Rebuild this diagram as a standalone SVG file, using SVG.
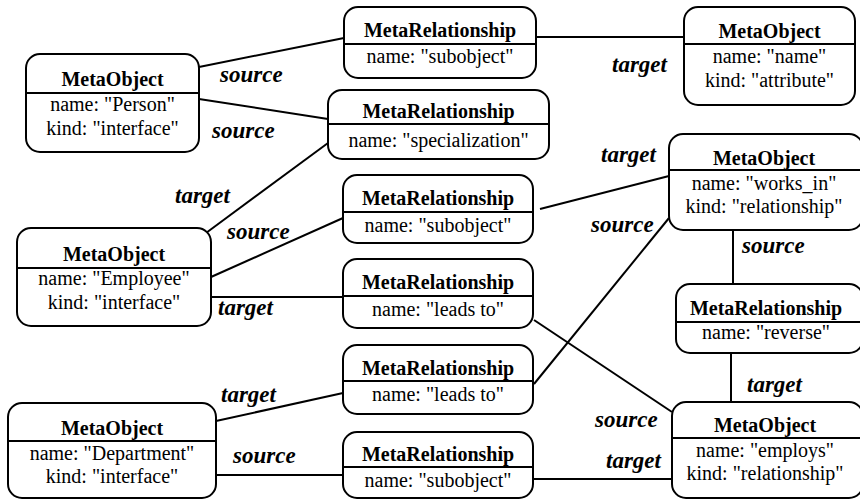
<svg xmlns="http://www.w3.org/2000/svg" width="860" height="499" viewBox="0 0 860 499">
<style>
.box{fill:#fff;stroke:#000;stroke-width:2}
.div{stroke:#000;stroke-width:2}
.t{font-family:"Liberation Serif","Times New Roman","DejaVu Serif",serif;font-weight:bold;font-size:20px;text-anchor:middle}
.a{font-family:"Liberation Serif","Times New Roman","DejaVu Serif",serif;font-size:20px;text-anchor:middle}
.l{font-family:"Liberation Serif","Times New Roman","DejaVu Serif",serif;font-weight:bold;font-style:italic;font-size:23px}
.c line{stroke:#000;stroke-width:2}
</style>
<rect width="860" height="499" fill="#fff"/>
<g class="c" id="connectors">
<line x1="199" y1="67" x2="344" y2="38"/>
<line x1="199" y1="99" x2="328" y2="119"/>
<line x1="536" y1="37" x2="684" y2="37"/>
<line x1="328" y1="143" x2="206" y2="233"/>
<line x1="211" y1="277" x2="343" y2="218"/>
<line x1="211" y1="297" x2="343" y2="297"/>
<line x1="540" y1="209" x2="669" y2="176"/>
<line x1="534" y1="384" x2="669" y2="218"/>
<line x1="534" y1="320" x2="672" y2="412"/>
<line x1="733" y1="230" x2="733" y2="284"/>
<line x1="731" y1="353" x2="731" y2="402"/>
<line x1="216" y1="421" x2="343" y2="393"/>
<line x1="216" y1="475" x2="343" y2="475"/>
<line x1="533" y1="479" x2="672" y2="479"/>
<text class="l" x="220" y="82">source</text>
<text class="l" x="212" y="138">source</text>
<text class="l" x="612" y="72">target</text>
<text class="l" x="175" y="203">target</text>
<text class="l" x="227" y="239">source</text>
<text class="l" x="218" y="315">target</text>
<text class="l" x="601" y="162">target</text>
<text class="l" x="591" y="232">source</text>
<text class="l" x="595" y="427">source</text>
<text class="l" x="742" y="253">source</text>
<text class="l" x="747" y="392">target</text>
<text class="l" x="221" y="402">target</text>
<text class="l" x="233" y="463">source</text>
<text class="l" x="606" y="468">target</text>
</g>
<g id="person">
<rect class="box" x="26" y="54" width="173" height="98" rx="14"/>
<line class="div" x1="26" y1="93" x2="199" y2="93"/>
<text class="t" x="112.5" y="86">MetaObject</text>
<text class="a" x="112.5" y="111">name: "Person"</text>
<text class="a" x="112.5" y="135">kind: "interface"</text>
</g>
<g id="rel-subobject-top">
<rect class="box" x="344" y="7" width="192" height="71" rx="14"/>
<line class="div" x1="344" y1="44" x2="536" y2="44"/>
<text class="t" x="440" y="37">MetaRelationship</text>
<text class="a" x="440" y="63">name: "subobject"</text>
</g>
<g id="rel-specialization">
<rect class="box" x="328" y="90" width="221" height="69" rx="14"/>
<line class="div" x1="328" y1="124" x2="549" y2="124"/>
<text class="t" x="438.5" y="118">MetaRelationship</text>
<text class="a" x="438.5" y="147">name: "specialization"</text>
</g>
<g id="obj-name">
<rect class="box" x="684" y="7" width="171" height="98" rx="14"/>
<line class="div" x1="684" y1="44" x2="855" y2="44"/>
<text class="t" x="769.5" y="38">MetaObject</text>
<text class="a" x="769.5" y="63">name: "name"</text>
<text class="a" x="769.5" y="87">kind: "attribute"</text>
</g>
<g id="obj-works_in">
<rect class="box" x="669" y="134" width="194" height="96" rx="14"/>
<line class="div" x1="669" y1="170" x2="863" y2="170"/>
<text class="t" x="764" y="165">MetaObject</text>
<text class="a" x="764" y="190">name: "works_in"</text>
<text class="a" x="764" y="213">kind: "relationship"</text>
</g>
<g id="rel-reverse">
<rect class="box" x="676" y="284" width="187" height="69" rx="14"/>
<line class="div" x1="676" y1="322" x2="863" y2="322"/>
<text class="t" x="766" y="315">MetaRelationship</text>
<text class="a" x="766" y="339">name: "reverse"</text>
</g>
<g id="obj-employs">
<rect class="box" x="672" y="402" width="191" height="96" rx="14"/>
<line class="div" x1="672" y1="438" x2="863" y2="438"/>
<text class="t" x="765" y="432">MetaObject</text>
<text class="a" x="765" y="457">name: "employs"</text>
<text class="a" x="765" y="480">kind: "relationship"</text>
</g>
<g id="employee">
<rect class="box" x="17" y="228" width="194" height="98" rx="14"/>
<line class="div" x1="17" y1="268" x2="211" y2="268"/>
<text class="t" x="114" y="261">MetaObject</text>
<text class="a" x="114" y="285">name: "Employee"</text>
<text class="a" x="114" y="309">kind: "interface"</text>
</g>
<g id="rel-subobject-mid">
<rect class="box" x="343" y="175" width="190" height="68" rx="14"/>
<line class="div" x1="343" y1="212" x2="533" y2="212"/>
<text class="t" x="438" y="205">MetaRelationship</text>
<text class="a" x="438" y="232">name: "subobject"</text>
</g>
<g id="rel-leads-upper">
<rect class="box" x="343" y="259" width="190" height="69" rx="14"/>
<line class="div" x1="343" y1="296" x2="533" y2="296"/>
<text class="t" x="438" y="289">MetaRelationship</text>
<text class="a" x="438" y="316">name: "leads to"</text>
</g>
<g id="rel-leads-lower">
<rect class="box" x="343" y="345" width="190" height="69" rx="14"/>
<line class="div" x1="343" y1="381" x2="533" y2="381"/>
<text class="t" x="438" y="375">MetaRelationship</text>
<text class="a" x="438" y="401">name: "leads to"</text>
</g>
<g id="rel-subobject-bottom">
<rect class="box" x="343" y="432" width="190" height="66" rx="14"/>
<line class="div" x1="343" y1="467" x2="533" y2="467"/>
<text class="t" x="438" y="461">MetaRelationship</text>
<text class="a" x="438" y="487">name: "subobject"</text>
</g>
<g id="department">
<rect class="box" x="8" y="403" width="208" height="95" rx="14"/>
<line class="div" x1="8" y1="441" x2="216" y2="441"/>
<text class="t" x="112" y="435">MetaObject</text>
<text class="a" x="112" y="460">name: "Department"</text>
<text class="a" x="112" y="483">kind: "interface"</text>
</g>
</svg>
